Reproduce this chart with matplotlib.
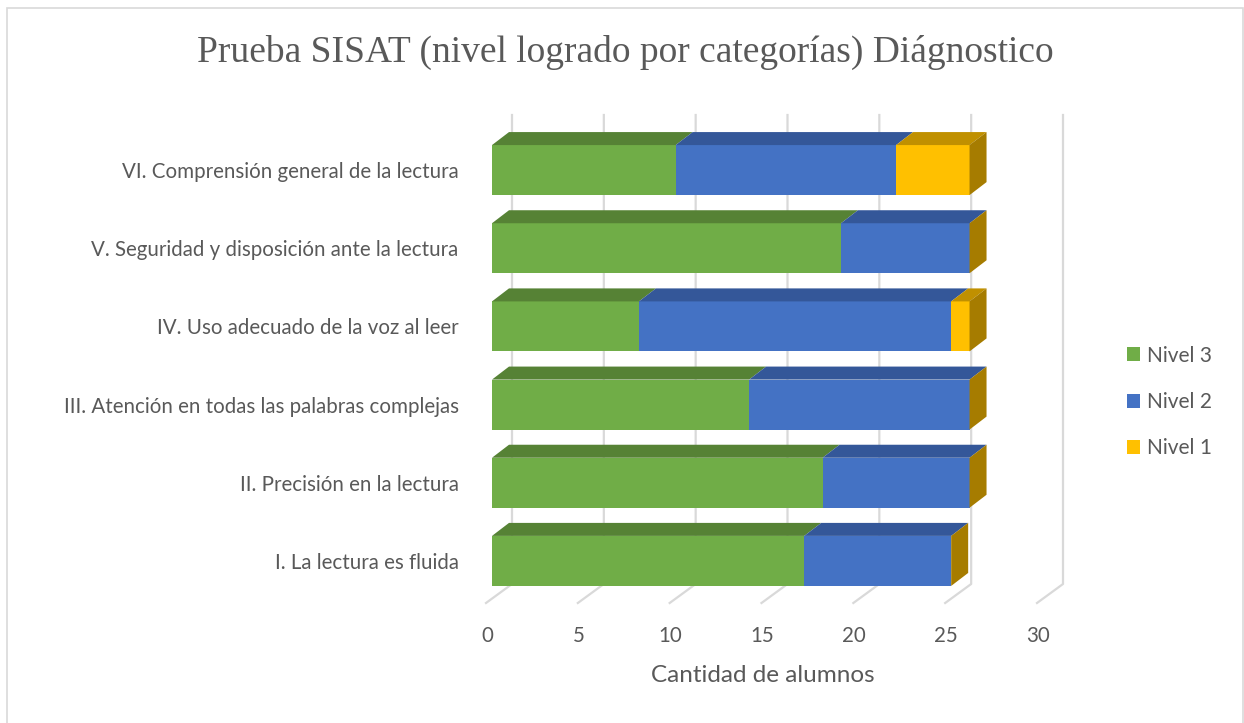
import matplotlib
matplotlib.use("Agg")
import matplotlib.pyplot as plt
from matplotlib.patches import Polygon, Rectangle, Patch
from matplotlib.lines import Line2D
from matplotlib.transforms import IdentityTransform, ScaledTranslation

# Data
categorias = [
    "I. La lectura es fluida",
    "II. Precisión en la lectura",
    "III. Atención en todas las palabras complejas",
    "IV. Uso adecuado de la voz al leer",
    "V. Seguridad y disposición ante la lectura",
    "VI. Comprensión general de la lectura",
]
nivel3 = [17, 18, 14, 8, 19, 10]
nivel2 = [8, 8, 12, 17, 7, 12]
nivel1 = [0, 0, 0, 1, 0, 4]
series_names = ["Nivel 3", "Nivel 2", "Nivel 1"]
xticks = [0, 5, 10, 15, 20, 25, 30]

front_colors = ["#70AD47", "#4472C4", "#FFC000"]
top_colors = ["#568235", "#345799", "#C09000"]
side_color = "#A67C00"
grid_color = "#D9D9D9"
text_color = "#595959"
font = "Lato"

W, H = 1244, 723
fig = plt.figure(figsize=(W / 100, H / 100), dpi=100)

# axes placed in pixels: front plane of the bars
ax_left, ax_right = 492, 1043
ax_top, ax_bottom = 131, 600
ax = fig.add_axes([ax_left / W, (H - ax_bottom) / H,
                   (ax_right - ax_left) / W, (ax_bottom - ax_top) / H])
ax.set_xlim(0, 30)
ax.set_ylim(-0.5, 5.5)
for s in ax.spines.values():
    s.set_visible(False)
ax.patch.set_alpha(0)

bar_h = 0.64
ypos = list(range(len(categorias)))
series = [nivel3, nivel2, nivel1]

# depth offsets in pixels
bdx, bdy = 17, 13          # bar depth
fl_front_dx, fl_front_dy = -6, -3   # floor front edge relative to axes bottom
fl_back_dx, fl_back_dy = 20, 16     # back wall relative to axes bottom
wall_top = H - 115

ident = IdentityTransform()

# back wall and floor gridlines
for v in xticks:
    px, py = ax.transData.transform((v, -0.5))
    xs = [px + fl_front_dx, px + fl_back_dx, px + fl_back_dx]
    ys = [py + fl_front_dy, py + fl_back_dy, wall_top]
    fig.add_artist(Line2D(xs, ys, transform=ident, color=grid_color, lw=1.6, zorder=0))

# bars
lefts = [0] * len(categorias)
for k, vals in enumerate(series):
    ax.barh(ypos, vals, left=lefts, height=bar_h, color=front_colors[k],
            linewidth=0, zorder=3)
    for i, v in enumerate(vals):
        a, b = lefts[i], lefts[i] + v
        if v > 0:
            (x0, yt) = ax.transData.transform((a, ypos[i] + bar_h / 2))
            (x1, _) = ax.transData.transform((b, ypos[i] + bar_h / 2))
            top = Polygon([(x0, yt), (x1, yt), (x1 + bdx, yt + bdy), (x0 + bdx, yt + bdy)],
                          closed=True, transform=ident, facecolor=top_colors[k],
                          edgecolor="none", zorder=3)
            fig.add_artist(top)
    lefts = [l + v for l, v in zip(lefts, vals)]

# right side faces
for i, total in enumerate(lefts):
    (xe, yt) = ax.transData.transform((total, ypos[i] + bar_h / 2))
    (_, yb) = ax.transData.transform((total, ypos[i] - bar_h / 2))
    side = Polygon([(xe, yb), (xe, yt), (xe + bdx, yt + bdy), (xe + bdx, yb + bdy)],
                   closed=True, transform=ident, facecolor=side_color,
                   edgecolor="none", zorder=3)
    fig.add_artist(side)

# axes ticks
ax.set_yticks(ypos)
ax.set_yticklabels(categorias, fontsize=14.8, color=text_color, family=font)
ax.tick_params(axis="y", length=0, pad=24)
ax.set_xticks(xticks)
ax.set_xticklabels([str(t) for t in xticks], fontsize=14.8, color=text_color, family=font)
ax.tick_params(axis="x", length=0, pad=19)
shift = ScaledTranslation(-0.05, 0, fig.dpi_scale_trans)
for lab in ax.get_xticklabels():
    lab.set_transform(lab.get_transform() + shift)

fig.text(763 / W, 1 - 675 / H, "Cantidad de alumnos", ha="center", va="center",
         fontsize=17.5, color=text_color, family=font)

fig.text(625 / W, 1 - 52 / H, "Prueba SISAT (nivel logrado por categorías) Diágnostico",
         ha="center", va="center", fontsize=27, color=text_color, family="Liberation Serif")

handles = [Patch(facecolor=c, edgecolor="none") for c in front_colors]
fig.legend(handles, series_names, loc="center left", bbox_to_anchor=(1108 / W, 1 - 402 / H),
           frameon=False, handlelength=0.65, handleheight=0.65, handletextpad=0.3,
           labelspacing=1.26, prop={"family": font, "size": 15}, labelcolor=text_color)

# chart border
fig.add_artist(Rectangle((7 / W, -5 / H), 1236 / W, 720 / H, transform=fig.transFigure,
                         fill=False, edgecolor=grid_color, lw=1.2))

fig.savefig("out.png", dpi=100)
